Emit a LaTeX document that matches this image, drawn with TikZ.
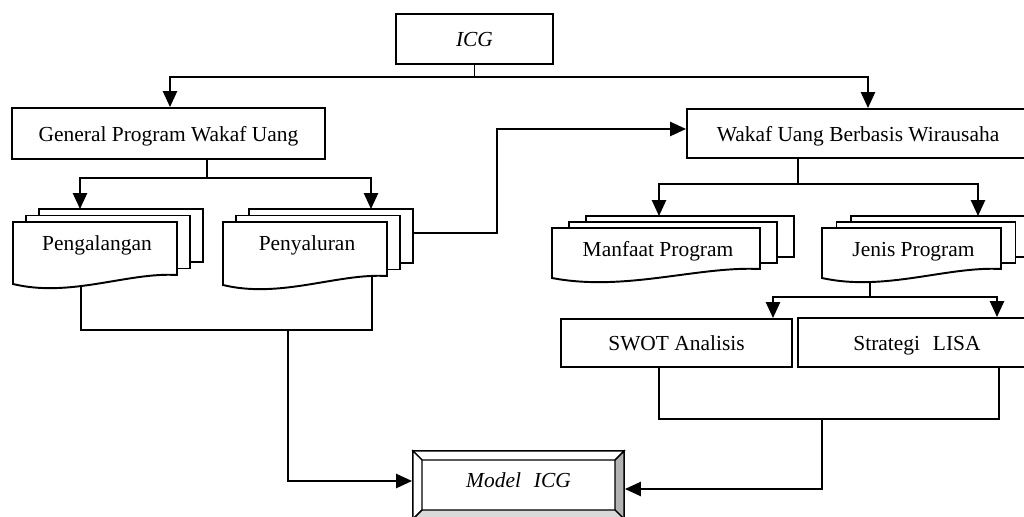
\documentclass[tikz,border=0pt]{standalone}
\usepackage{fontspec}
\setmainfont{Liberation Serif}
\usetikzlibrary{arrows.meta,backgrounds}

\tikzset{
  txt/.style={font=\fontsize{12.2}{14}\selectfont, inner sep=0pt, text height=11pt, text depth=2pt},
  box/.style={txt, draw, line width=1.1pt, fill=white},
  link/.style={line width=1.1pt},
  arr/.style={line width=1.1pt, -{Triangle[length=9pt,width=8pt]}},
  doclayer/.style={draw, line width=1.1pt, fill=white},
}

% rectangular box: name, centre x, centre y, width, height, text
\newcommand{\boxnode}[6]{%
  \node[box, minimum width=#4*0.02cm, minimum height=#5*0.02cm] (#1) at (#2,#3) {#6};}

% stacked documents: name, front left, front top, front right,
% front bottom (right end), layer shift x, layer shift y, text
\newcommand{\multidoc}[8]{%
  \draw[doclayer] ({#2+2*#6},{#3-2*#7}) rectangle ({#4+2*#6},{#5-2*#7});
  \draw[doclayer] ({#2+#6},{#3-#7}) rectangle ({#4+#6},{#5-#7});
  \draw[doclayer] (#2,#3) -- (#4,#3) -- (#4,#5)
     .. controls ({#4-0.3*(#4-#2)},{#5-3}) and ({#2+0.35*(#4-#2)},{#5+23}) .. (#2,{#5+9}) -- cycle;
  \node[txt] (#1) at ({(#2+#4)/2+2},{#3+21}) {#8};
  \coordinate (#1-t) at ({(#2+#4)/2+2*#6},{#3-2*#7});
}

\begin{document}
\begin{tikzpicture}[x=0.02cm, y=-0.02cm]
\useasboundingbox (0,0) rectangle (1024,517);
\clip (0,0) rectangle (1024,517);

% top level
\boxnode{icg}{474.5}{39}{157}{50}{\itshape ICG}
\boxnode{general}{168.5}{133.5}{313}{51}{General Program Wakaf Uang}
\boxnode{wakaf}{858}{133.5}{342}{49}{Wakaf Uang Berbasis Wirausaha}

% document stacks
\multidoc{peng}{13}{222}{177}{275}{13}{6.5}{Pengalangan}
\multidoc{peny}{223}{222}{387}{276}{13}{6.5}{Penyaluran}
\multidoc{manf}{552}{228}{760}{269}{17}{6}{Manfaat Program}
\multidoc{jenis}{822}{228}{1001}{269}{14.5}{6}{Jenis Program}

% analysis boxes
\boxnode{swot}{676.5}{343}{231}{48}{SWOT Analisis}
\boxnode{lisa}{917}{342.5}{238}{49}{Strategi\hspace{0.6em}LISA}

% bevelled result box
\node[box, minimum width=211*0.02cm, minimum height=68*0.02cm,
      text height=8pt, text depth=5.5pt] (model) at (518.5,485) {\itshape Model\hspace{0.6em}ICG};
\draw[line width=0.8pt, fill=white] (413,451) -- (624,451) -- (615,460) -- (422,460) -- cycle;
\draw[line width=0.8pt, fill=white] (413,451) -- (422,460) -- (422,510) -- (413,519) -- cycle;
\draw[line width=0.8pt, fill=gray!60] (624,451) -- (615,460) -- (615,510) -- (624,519) -- cycle;
\draw[line width=0.8pt, fill=gray!30] (413,519) -- (422,510) -- (615,510) -- (624,519) -- cycle;

% connectors
\begin{scope}[on background layer]
  \coordinate (s1) at (icg.south |- 0,77);
  \draw[link] (icg.south) -- (s1);
  \draw[arr] (s1) -| (general.north -| 170,0);
  \draw[arr] (s1) -| (wakaf.north -| 868,0);

  \coordinate (s2) at (207,178);
  \draw[link] (general.south -| s2) -- (s2);
  \draw[arr] (s2) -| (peng-t -| 80,0);
  \draw[arr] (s2) -| (peny-t -| 371,0);

  \draw[arr] (peny.center |- 0,233) -- (497,233) -- (497,129) -- (wakaf.west |- 0,129);

  \coordinate (s3) at (798,184);
  \draw[link] (wakaf.south -| s3) -- (s3);
  \draw[arr] (s3) -| (manf-t -| 659,0);
  \draw[arr] (s3) -| (jenis-t -| 978,0);

  \coordinate (s4) at (870,297);
  \draw[link] (jenis.center -| s4) -- (s4);
  \draw[arr] (s4) -| (swot.north -| 773,0);
  \draw[arr] (s4) -| (lisa.north -| 997,0);

  \coordinate (s5) at (288,330);
  \draw[link] (peng.center -| 81,0) -- (81,330) -- (372,330) -- (peny.center -| 372,0);
  \draw[arr] (s5) |- (model.west |- 0,481);

  \coordinate (s6) at (822,419);
  \draw[link] (swot.south -| 659,0) -- (659,419) -- (999,419) -- (lisa.south -| 999,0);
  \draw[arr] (s6) |- (model.east |- 0,489);
\end{scope}
\end{tikzpicture}
\end{document}
